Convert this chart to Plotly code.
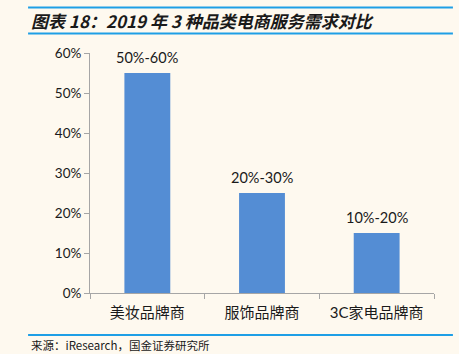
import plotly.graph_objects as go

categories = ["美妆品牌商", "服饰品牌商", "3C家电品牌商"]
values = [0.55, 0.25, 0.15]
labels = ["50%-60%", "20%-30%", "10%-20%"]
y_ticks = [0, 0.1, 0.2, 0.3, 0.4, 0.5, 0.6]
y_tick_labels = ["0%", "10%", "20%", "30%", "40%", "50%", "60%"]
title_text = "图表 18：2019 年 3 种品类电商服务需求对比"
source_text = "来源：iResearch，国金证券研究所"

BG = "#FEF9EF"
LINE = "#1E9FE6"
FONT = "Lato, Noto Sans CJK SC, sans-serif"

fig = go.Figure()
fig.add_trace(go.Bar(x=categories, y=values, marker=dict(color="#548DD4", line=dict(width=0)),
                     hoverinfo="skip"))

for c, v, t in zip(categories, values, labels):
    fig.add_annotation(x=c, y=v, text=t, showarrow=False, yanchor="bottom", yshift=5,
                       font=dict(family=FONT, size=14.5, color="#1a1a1a"))

fig.add_annotation(xref="paper", yref="paper", x=-0.177, y=1.135, xanchor="left", yanchor="middle",
                   text="<b><i>" + title_text + "</i></b>", showarrow=False,
                   font=dict(family="Noto Sans CJK SC", size=17, color="#1a1a1a"))
fig.add_annotation(xref="paper", yref="paper", x=-0.177, y=-0.215, xanchor="left", yanchor="middle",
                   text=source_text, showarrow=False,
                   font=dict(family="Noto Sans CJK SC", size=11.5, color="#1a1a1a"))

for yy in [1.19, 1.081, -0.175]:
    fig.add_shape(type="line", xref="paper", yref="paper", x0=-0.180, x1=1.055, y0=yy, y1=yy,
                  line=dict(color=LINE, width=2))

fig.update_layout(
    width=459, height=354,
    margin=dict(l=90, r=25, t=53, b=61),
    paper_bgcolor=BG, plot_bgcolor=BG,
    bargap=0.6, showlegend=False,
    xaxis=dict(showline=True, linecolor="#A6A6A6", linewidth=1, ticks="outside", tickson="boundaries",
               ticklen=5, tickcolor="#A6A6A6", tickfont=dict(family=FONT, size=15, color="#1a1a1a"),
               ticklabelstandoff=6, showgrid=False, fixedrange=True),
    yaxis=dict(range=[0, 0.6], tickvals=y_ticks, ticktext=y_tick_labels, showline=True,
               linecolor="#A6A6A6", linewidth=1, ticks="outside", ticklen=5, tickcolor="#A6A6A6",
               tickfont=dict(family=FONT, size=13.5, color="#1a1a1a"), showgrid=False, zeroline=False,
               fixedrange=True),
)

fig.write_html("out.html")
